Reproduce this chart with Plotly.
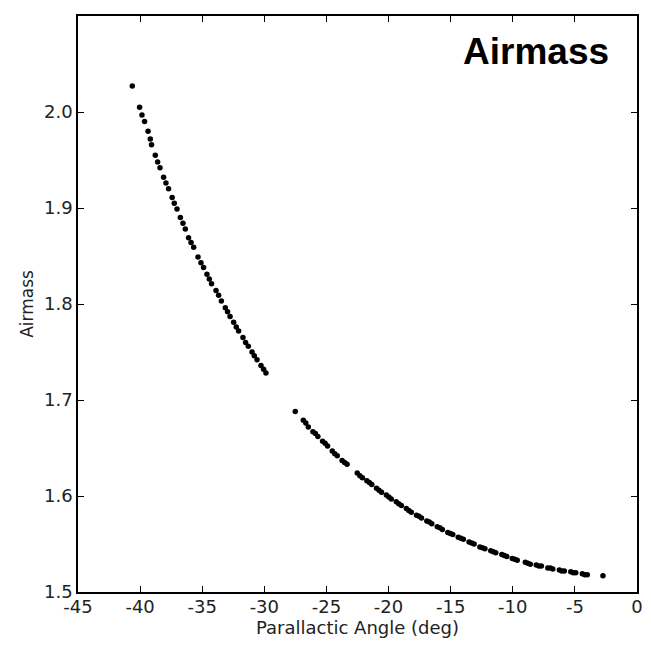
import plotly.graph_objects as go

# Parallactic angle (deg) and airmass
parallactic_angle = [
    -40.63, -40.04, -39.85, -39.64, -39.36, -39.18, -39.08, -38.78, -38.59, -38.40,
    -38.11, -37.92, -37.71, -37.42, -37.25, -37.03, -36.76, -36.55, -36.36, -36.10,
    -35.90, -35.69, -35.34, -35.10, -34.89, -34.62, -34.43, -34.25, -33.89, -33.68,
    -33.46, -33.14, -32.96, -32.76, -32.47, -32.26, -32.07, -31.72, -31.51, -31.29,
    -30.99, -30.81, -30.59, -30.27, -30.06, -29.87,
    -27.51,
    -26.86, -26.66, -26.46, -26.09, -25.89, -25.69, -25.31, -25.11, -24.91,
    -24.53, -24.33, -24.13, -23.74, -23.54, -23.34, -22.52, -22.31, -22.11,
    -21.75, -21.55, -21.35, -20.97, -20.77, -20.57, -20.18, -19.98, -19.78,
    -19.38, -19.18, -18.97, -18.57, -18.37, -18.17, -17.75, -17.55, -17.35,
    -16.92, -16.72, -16.52, -16.08, -15.87, -15.67, -15.23, -15.03, -14.83,
    -14.39, -14.18, -13.98, -13.52, -13.31, -13.11, -12.65, -12.45, -12.24,
    -11.77, -11.57, -11.37, -10.88, -10.68, -10.48, -10.04, -9.84, -9.64,
    -8.99, -8.79, -8.59, -8.11, -7.90, -7.70, -7.18, -6.98, -6.78,
    -6.25, -6.05, -5.85, -5.33, -5.13, -4.93, -4.40, -4.20, -4.00,
    -2.74,
]

airmass = [
    2.027, 2.005, 1.997, 1.990, 1.980, 1.972, 1.966, 1.955, 1.948, 1.942,
    1.932, 1.926, 1.920, 1.911, 1.905, 1.899, 1.890, 1.884, 1.878, 1.869,
    1.864, 1.859, 1.849, 1.843, 1.838, 1.831, 1.826, 1.821, 1.814, 1.809,
    1.803, 1.796, 1.792, 1.787, 1.781, 1.776, 1.772, 1.765, 1.760, 1.756,
    1.750, 1.746, 1.742, 1.736, 1.732, 1.728,
    1.688,
    1.679, 1.676, 1.672, 1.667, 1.665, 1.662, 1.657, 1.655, 1.652,
    1.647, 1.644, 1.642, 1.637, 1.635, 1.633, 1.624, 1.621, 1.619,
    1.616, 1.614, 1.612, 1.608, 1.606, 1.604, 1.601, 1.599, 1.597,
    1.594, 1.592, 1.590, 1.587, 1.585, 1.583, 1.580, 1.579, 1.577,
    1.574, 1.573, 1.571, 1.568, 1.567, 1.565, 1.562, 1.561, 1.560,
    1.557, 1.556, 1.555, 1.552, 1.551, 1.550, 1.547, 1.546, 1.545,
    1.543, 1.542, 1.541, 1.539, 1.538, 1.537, 1.535, 1.534, 1.533,
    1.531, 1.530, 1.529, 1.528, 1.527, 1.527, 1.525, 1.525, 1.524,
    1.523, 1.522, 1.522, 1.521, 1.520, 1.520, 1.519, 1.518, 1.518,
    1.517,
]

x_ticks = [-45, -40, -35, -30, -25, -20, -15, -10, -5, 0]
x_tick_labels = ["-45", "-40", "-35", "-30", "-25", "-20", "-15", "-10", "-5", "0"]
y_ticks = [1.5, 1.6, 1.7, 1.8, 1.9, 2.0, 2.1]
y_tick_labels = ["1.5", "1.6", "1.7", "1.8", "1.9", "2.0", "2.1"]

title_text = "Airmass"
x_label = "Parallactic Angle (deg)"
y_label = "Airmass"

fig = go.Figure()
fig.add_trace(go.Scatter(
    x=parallactic_angle, y=airmass, mode="markers",
    marker=dict(color="black", size=5.5, line=dict(width=0)),
    showlegend=False, hoverinfo="x+y",
))

tick_font = dict(family="DejaVu Sans", size=18, color="#222222")
axis_common = dict(
    showline=True, linecolor="black", linewidth=1.5, mirror="ticks",
    ticks="inside", ticklen=6, tickwidth=1, tickcolor="black",
    showgrid=False, zeroline=False, tickfont=tick_font, automargin=False,
)

fig.update_xaxes(
    range=[-45, 0], tickmode="array", tickvals=x_ticks, ticktext=x_tick_labels,
    ticklabelstandoff=-2,
    title=dict(text=x_label, font=dict(family="DejaVu Sans", size=18, color="#222222"), standoff=2),
    **axis_common,
)
fig.update_yaxes(
    range=[1.5, 2.1], tickmode="array", tickvals=y_ticks, ticktext=y_tick_labels,
    title=dict(text=y_label, font=dict(family="DejaVu Sans", size=17, color="#222222"), standoff=6),
    **axis_common,
)

fig.add_annotation(
    text="<b>" + title_text + "</b>", xref="paper", yref="paper",
    x=0.953, y=0.938, xanchor="right", yanchor="middle", showarrow=False,
    font=dict(family="Liberation Sans, Arial, sans-serif", size=37, color="black"),
)

# The page body adds an 8 px offset, so the figure is 8 px smaller and margins compensate
fig.update_layout(
    width=643, height=637,
    margin=dict(l=70, r=14, t=8, b=53, pad=0),
    paper_bgcolor="white", plot_bgcolor="white",
)

fig.write_html("out.html")
